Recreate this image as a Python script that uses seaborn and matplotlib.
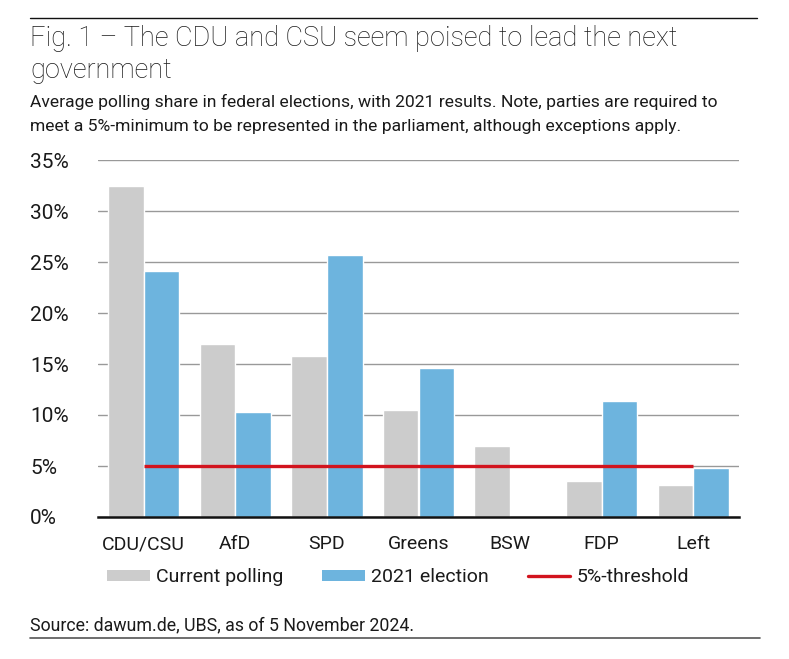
import matplotlib
matplotlib.use("Agg")
import matplotlib.pyplot as plt
import seaborn as sns
import pandas as pd
from matplotlib.patches import Patch
from matplotlib.lines import Line2D

parties = ["CDU/CSU", "AfD", "SPD", "Greens", "BSW", "FDP", "Left"]
current_polling = [32.5, 17.0, 15.8, 10.5, 7.0, 3.5, 3.1]
election_2021 = [24.1, 10.3, 25.7, 14.6, 0.0, 11.4, 4.8]
series_names = ["Current polling", "2021 election"]
threshold = 5
threshold_label = "5%-threshold"
y_ticks = [0, 5, 10, 15, 20, 25, 30, 35]

sns.set_theme(style="white")
plt.rcParams["font.family"] = ["Roboto", "DejaVu Sans"]

df = pd.DataFrame({
    "party": parties * 2,
    "series": [series_names[0]] * len(parties) + [series_names[1]] * len(parties),
    "value": current_polling + election_2021,
})

colors = {"Current polling": "#CCCCCC", "2021 election": "#6DB4DE"}
red = "#D2141E"
txt = "#1a1a1a"

fig = plt.figure(figsize=(7.89, 6.59), dpi=100)
ax = fig.add_axes([98 / 789, 1 - 517 / 659, (739 - 98) / 789, (517 - 160) / 659])

sns.barplot(data=df, x="party", y="value", hue="series", palette=colors,
            order=parties, hue_order=series_names, width=0.78, saturation=1,
            edgecolor="white", linewidth=1.0, ax=ax, legend=False, zorder=2)

ax.hlines(threshold, 0, len(parties) - 1, color=red, linewidth=2.4, zorder=3)

ax.set_ylim(0, 35)
ax.set_xlim(-0.5, len(parties) - 0.5)
ax.set_yticks(y_ticks)
ax.set_yticklabels([f"{t}%" for t in y_ticks], fontsize=15, color=txt)
ax.tick_params(axis="x", labelsize=14, colors=txt, length=0, pad=13)
ax.tick_params(axis="y", length=0, pad=49)
for lab in ax.get_yticklabels():
    lab.set_horizontalalignment("left")
ax.set_xlabel("")
ax.set_ylabel("")
ax.grid(axis="y", color="#999999", linewidth=1.0, zorder=0)
ax.set_axisbelow(True)
for s in ["top", "right", "left"]:
    ax.spines[s].set_visible(False)
ax.spines["bottom"].set_color("#111111")
ax.spines["bottom"].set_linewidth(1.8)
ax.spines["bottom"].set_zorder(4)

# Title and texts
fig.text(30 / 789, 1 - 38 / 659, "Fig. 1 – The CDU and CSU seem poised to lead the next",
         fontsize=19.5, fontweight="light", color=txt, va="center", ha="left")
fig.text(30 / 789, 1 - 71 / 659, "government",
         fontsize=19.5, fontweight="light", color=txt, va="center", ha="left")
fig.text(30 / 789, 1 - 102 / 659,
         "Average polling share in federal elections, with 2021 results. Note, parties are required to",
         fontsize=12.6, color=txt, va="center", ha="left")
fig.text(30 / 789, 1 - 127 / 659,
         "meet a 5%-minimum to be represented in the parliament, although exceptions apply.",
         fontsize=12.6, color=txt, va="center", ha="left")
fig.text(30 / 789, 1 - 625 / 659, "Source: dawum.de, UBS, as of 5 November 2024.",
         fontsize=12.8, color=txt, va="center", ha="left")

fig.add_artist(Line2D([30 / 789, 757 / 789], [1 - 18 / 659, 1 - 18 / 659], color="#111111", linewidth=1.0))
fig.add_artist(Line2D([30 / 789, 760 / 789], [1 - 638 / 659, 1 - 638 / 659], color="#555555", linewidth=1.2))

handles = [Patch(facecolor=colors[series_names[0]], edgecolor="none"),
           Patch(facecolor=colors[series_names[1]], edgecolor="none"),
           Line2D([0], [0], color=red, linewidth=2.4)]
fig.legend(handles, series_names + [threshold_label], loc="center",
           bbox_to_anchor=(398 / 789, 1 - 577 / 659), ncol=3, frameon=False,
           fontsize=14, handlelength=2.2, handleheight=0.5, handletextpad=0.3,
           columnspacing=2.0, labelcolor=txt)

fig.savefig("out.png", dpi=100)
